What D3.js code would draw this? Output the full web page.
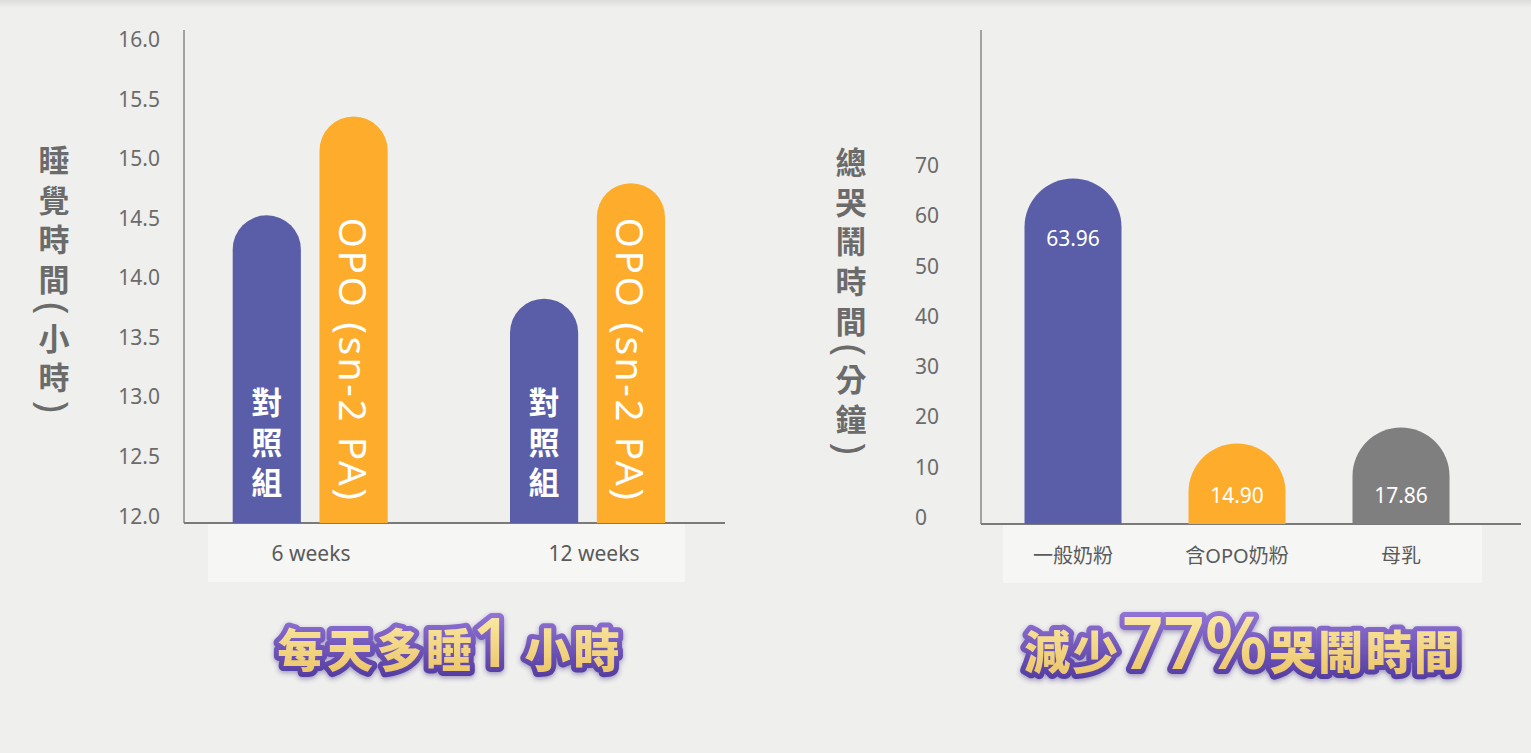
<!DOCTYPE html>
<html>
<head>
<meta charset="utf-8">
<script src="https://cdn.jsdelivr.net/npm/d3@7"></script>
<style>
  body { margin: 0; background: #efefed; }
  svg { display: block; }
  text { font-family: "Noto Sans", "Noto Sans CJK TC", sans-serif; }
</style>
</head>
<body>
<div id="chart"></div>
<script>
// ---- data ----
const sleepGroups = ["6 weeks", "12 weeks"];
const sleepSeries = ["對照組", "OPO (sn-2 PA)"];
const sleepControl = [14.52, 13.82];
const sleepOPO = [15.35, 14.79];
const sleepTicks = [12.0, 12.5, 13.0, 13.5, 14.0, 14.5, 15.0, 15.5, 16.0];

const cryCategories = ["一般奶粉", "含OPO奶粉", "母乳"];
const cryValues = [63.96, 14.90, 17.86];
const cryTicks = [0, 10, 20, 30, 40, 50, 60, 70];

const colors = { purple: "#5a5ea8", orange: "#fdad2b", gray: "#7f7f7f" };
const cryColors = [colors.purple, colors.orange, colors.gray];

const W = 1531, H = 753;
const svg = d3.select("#chart").append("svg").attr("width", W).attr("height", H);
const defs = svg.append("defs");

// top edge shadow
const topGrad = defs.append("linearGradient").attr("id", "topShade").attr("x1", 0).attr("x2", 0).attr("y1", 0).attr("y2", 1);
topGrad.append("stop").attr("offset", 0).attr("stop-color", "#000").attr("stop-opacity", 0.08);
topGrad.append("stop").attr("offset", 1).attr("stop-color", "#000").attr("stop-opacity", 0);
svg.append("rect").attr("width", W).attr("height", 8).attr("fill", "url(#topShade)");

// pill shaped bar: round top, flat bottom
function pill(x, top, w, bottom) {
    const r = w / 2;
    return `M${x},${bottom}V${top + r}A${r},${r} 0 0 1 ${x + w},${top + r}V${bottom}Z`;
}

// vertical CJK label, char by char; half-width parens turned on their side
function verticalLabel(g, str, cx, y0, size) {
    let y = y0;
    for (const ch of str) {
        const paren = ch === "(" || ch === ")";
        const adv = paren ? size * 0.62 : size * 1.28;
        const cy = y + adv / 2;
        g.append("text")
            .attr("x", 0).attr("y", 0)
            .attr("transform", paren ? `translate(${cx},${cy}) rotate(90)` : `translate(${cx},${cy})`)
            .attr("text-anchor", "middle").attr("dominant-baseline", "central")
            .attr("font-family", paren ? "'Noto Sans', sans-serif" : "'Noto Sans CJK TC', sans-serif")
            .attr("font-weight", paren ? 400 : 700).attr("font-size", paren ? size * 1.3 : size)
            .attr("fill", "#6b6b6b")
            .text(ch);
        y += adv;
    }
}

// ================= left chart: sleep hours =================
const left = svg.append("g");
const yL = d3.scaleLinear().domain([12, 16]).range([515.5, 39]);
const baseL = 523;
const xL = d3.scalePoint().domain(sleepGroups).range([310.2, 587.5]);
const xLabelL = d3.scalePoint().domain(sleepGroups).range([311, 594]);
const xSub = d3.scaleBand().domain(sleepSeries).range([0, 155]).paddingInner(0.215);

// category band
left.append("rect").attr("x", 208).attr("y", baseL + 1).attr("width", 477).attr("height", 58).attr("fill", "#f6f6f4");

// axis lines
left.append("line").attr("x1", 184).attr("x2", 184).attr("y1", 30).attr("y2", baseL).attr("stroke", "#555").attr("stroke-width", 1);
left.append("line").attr("x1", 184).attr("x2", 725).attr("y1", baseL).attr("y2", baseL).attr("stroke", "#7a7a7a").attr("stroke-width", 2);

// tick labels
left.selectAll(".tickL").data(sleepTicks).enter().append("text")
    .attr("x", 160).attr("y", d => yL(d))
    .attr("text-anchor", "end").attr("dominant-baseline", "central")
    .attr("font-size", 21).attr("fill", "#6b6b6b")
    .text(d => d.toFixed(1));

verticalLabel(left, "睡覺時間(小時)", 54, 140, 31);

const groupsL = sleepGroups.map((g, i) => ({ g, control: sleepControl[i], opo: sleepOPO[i] }));
groupsL.forEach(d => {
    const gx = xL(d.g) - 77.5;
    const bw = xSub.bandwidth();
    const cX = gx + xSub(sleepSeries[0]);
    const oX = gx + xSub(sleepSeries[1]);
    left.append("path").attr("d", pill(cX, yL(d.control), bw, baseL)).attr("fill", colors.purple);
    left.append("path").attr("d", pill(oX, yL(d.opo), bw, baseL)).attr("fill", colors.orange);

    // 對照組 written top to bottom
    Array.from(sleepSeries[0]).forEach((ch, k) => {
        left.append("text")
            .attr("x", cX + bw / 2).attr("y", 402 + k * 40)
            .attr("text-anchor", "middle").attr("dominant-baseline", "central")
            .attr("font-family", "'Noto Sans CJK TC', sans-serif")
            .attr("font-weight", 700).attr("font-size", 31).attr("fill", "#fff")
            .text(ch);
    });
    // OPO (sn-2 PA) rotated
    const tx = oX + bw / 2 - 15, ty = 360;
    left.append("text")
        .attr("x", tx).attr("y", ty)
        .attr("transform", `rotate(90,${tx},${ty})`)
        .attr("text-anchor", "middle")
        .attr("font-size", 39).attr("letter-spacing", 2.5).attr("fill", "#fff")
        .text(sleepSeries[1]);

    left.append("text")
        .attr("x", xLabelL(d.g)).attr("y", 553)
        .attr("text-anchor", "middle").attr("dominant-baseline", "central")
        .attr("font-size", 21).attr("fill", "#5a5a5a")
        .text(d.g);
});

// ================= right chart: crying minutes =================
const right = svg.append("g");
const baseR = 524;
const yTickR = d3.scaleLinear().domain([0, 70]).range([517, 165]);
// the bars in the original are drawn a little taller than the tick labels suggest
const yBarR = d3.scaleLinear().domain([0, 70]).range([baseR, baseR - 70 * 5.4]);
const xR = d3.scalePoint().domain(cryCategories).range([1073, 1401]);
const bwR = 97;

right.append("rect").attr("x", 1003).attr("y", baseR + 1).attr("width", 479).attr("height", 58).attr("fill", "#f6f6f4");
right.append("line").attr("x1", 981).attr("x2", 981).attr("y1", 30).attr("y2", baseR).attr("stroke", "#555").attr("stroke-width", 1);
right.append("line").attr("x1", 981).attr("x2", 1521).attr("y1", baseR).attr("y2", baseR).attr("stroke", "#7a7a7a").attr("stroke-width", 2);

right.selectAll(".tickR").data(cryTicks).enter().append("text")
    .attr("x", 915).attr("y", d => yTickR(d))
    .attr("text-anchor", "start").attr("dominant-baseline", "central")
    .attr("font-size", 21).attr("fill", "#6b6b6b")
    .text(d => d);

verticalLabel(right, "總哭鬧時間(分鐘)", 851, 142, 31);

const cry = cryCategories.map((c, i) => ({ c, v: cryValues[i], color: cryColors[i] }));
right.selectAll(".barR").data(cry).enter().append("path")
    .attr("d", d => pill(xR(d.c) - bwR / 2, yBarR(d.v), bwR, baseR))
    .attr("fill", d => d.color);

// value label near the top of tall bars, near the bottom of short ones
right.selectAll(".valR").data(cry).enter().append("text")
    .attr("x", d => xR(d.c))
    .attr("y", d => baseR - yBarR(d.v) > 150 ? yBarR(d.v) + 59 : baseR - 29)
    .attr("text-anchor", "middle").attr("dominant-baseline", "central")
    .attr("font-size", 21).attr("fill", "#fff")
    .text(d => d.v.toFixed(2));

right.selectAll(".catR").data(cry).enter().append("text")
    .attr("x", d => xR(d.c)).attr("y", 555)
    .attr("text-anchor", "middle").attr("dominant-baseline", "central")
    .attr("font-family", "'Noto Sans CJK TC', sans-serif")
    .attr("font-size", 20).attr("fill", "#5a5a5a")
    .text(d => d.c);

// ================= headline texts =================
const fillGrad = defs.append("linearGradient").attr("id", "goldFill").attr("x1", 0).attr("x2", 0).attr("y1", 0).attr("y2", 1);
fillGrad.append("stop").attr("offset", 0).attr("stop-color", "#fff6b8");
fillGrad.append("stop").attr("offset", 1).attr("stop-color", "#e9bd5c");
const strokeGrad = defs.append("linearGradient").attr("id", "purpleStroke").attr("x1", 0).attr("x2", 0).attr("y1", 0).attr("y2", 1);
strokeGrad.append("stop").attr("offset", 0).attr("stop-color", "#a486e6");
strokeGrad.append("stop").attr("offset", 1).attr("stop-color", "#4a3398");
const glow = defs.append("filter").attr("id", "glow").attr("x", "-10%").attr("y", "-30%").attr("width", "120%").attr("height", "160%");
glow.append("feDropShadow").attr("dx", 0).attr("dy", 2).attr("stdDeviation", 2.5).attr("flood-color", "#3b2a7a").attr("flood-opacity", 0.45);

function headline(x, y, parts) {
    const t = svg.append("text")
        .attr("x", x).attr("y", y)
        .attr("text-anchor", "middle")
        .attr("fill", "url(#goldFill)")
        .attr("stroke", "url(#purpleStroke)").attr("stroke-width", 10)
        .attr("stroke-linejoin", "round").attr("paint-order", "stroke")
        .attr("filter", "url(#glow)");
    parts.forEach(p => {
        t.append("tspan")
            .attr("font-size", p.size)
            .attr("font-weight", p.latin ? 600 : 900)
            .attr("letter-spacing", p.ls || 0)
            .attr("font-family", p.latin ? "'Noto Sans', sans-serif" : "'Noto Sans CJK TC', sans-serif")
            .attr("dx", p.dx || 0)
            .text(p.t);
    });
}
headline(450, 667, [
    { t: "每天多睡", size: 46, ls: 3.5 },
    { t: "1", size: 68, latin: true, dx: -3 },
    { t: "小時", size: 46, dx: 13, ls: 3 }
]);
headline(1243, 669, [
    { t: "減少", size: 46, ls: 2 },
    { t: "77%", size: 72, latin: true, dx: 2 },
    { t: "哭鬧時間", size: 46, dx: 2, ls: 2 }
]);
</script>
</body>
</html>
